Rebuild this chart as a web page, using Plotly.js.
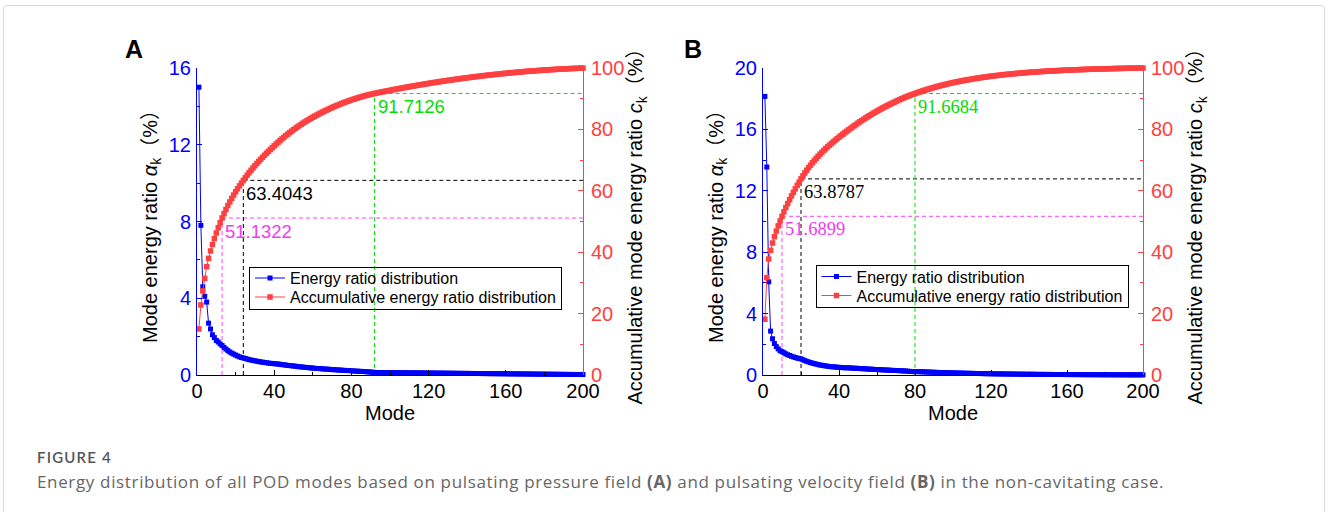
<!DOCTYPE html>
<html>
<head>
<meta charset="utf-8">
<script src="https://cdn.plot.ly/plotly-3.0.1.min.js"></script>
<style>
html,body{margin:0;padding:0;background:#fff;}
#wrap{position:relative;width:1328px;height:512px;overflow:hidden;background:#fff;}
#chart{position:absolute;left:0;top:0;width:1328px;height:512px;}
#frame{position:absolute;left:3px;top:5px;width:1320px;height:560px;border:1px solid #d9d9d9;border-radius:4px;pointer-events:none;z-index:5;}
.cap{position:absolute;left:37px;font-family:'Open Sans','Noto Sans',sans-serif;color:#666;white-space:nowrap;z-index:6;}
#cap1{top:448px;font-size:15px;font-weight:600;color:#555;letter-spacing:1.2px;font-family:'Lato','Open Sans',sans-serif;}
#cap2{top:470px;font-size:17px;letter-spacing:0.65px;}
</style>
</head>
<body>
<div id="wrap">
  <div id="chart"></div>
  <div id="frame"></div>
  <div class="cap" id="cap1">FIGURE 4</div>
  <div class="cap" id="cap2">Energy distribution of all POD modes based on pulsating pressure field <b>(A)</b> and pulsating velocity field <b>(B)</b> in the non-cavitating case.</div>
</div>
<script>
// ---------------- data ----------------
const modes = Array.from({length: 200}, (_, i) => i + 1);

// Panel A : pulsating pressure field
const energyA = [
15.0,7.8,4.6,4.1,3.8,2.7,2.4,2.1,1.95,1.8,
1.72,1.62,1.54,1.44,1.35,1.27,1.20,1.14,1.09,1.04,
0.99,0.95,0.91,0.89,0.86,0.83,0.80,0.78,0.76,0.74,
0.72,0.70,0.68,0.67,0.65,0.64,0.62,0.61,0.60,0.59,
0.58,0.57,0.56,0.54,0.53,0.52,0.50,0.49,0.48,0.47,
0.46,0.44,0.43,0.42,0.41,0.40,0.39,0.38,0.37,0.36,
0.35,0.34,0.34,0.33,0.32,0.31,0.31,0.30,0.29,0.28,
0.28,0.27,0.26,0.26,0.25,0.24,0.24,0.23,0.23,0.22,
0.21,0.20,0.20,0.19,0.19,0.18,0.18,0.165,0.16,0.155,
0.145,0.135,0.130,0.129,0.128,0.127,0.126,0.125,0.124,0.123,
0.122,0.121,0.120,0.119,0.118,0.117,0.116,0.115,0.114,0.113,
0.112,0.111,0.110,0.109,0.108,0.107,0.106,0.105,0.104,0.103,
0.102,0.101,0.100,0.099,0.098,0.097,0.096,0.095,0.094,0.093,
0.092,0.091,0.090,0.089,0.088,0.087,0.086,0.085,0.084,0.083,
0.082,0.081,0.080,0.079,0.078,0.077,0.076,0.075,0.074,0.073,
0.072,0.071,0.070,0.069,0.068,0.067,0.066,0.065,0.064,0.063,
0.062,0.061,0.060,0.059,0.058,0.057,0.056,0.055,0.054,0.053,
0.052,0.051,0.050,0.049,0.048,0.047,0.046,0.045,0.044,0.043,
0.042,0.041,0.040,0.039,0.038,0.037,0.036,0.035,0.034,0.033,
0.032,0.031,0.030,0.029,0.028,0.027,0.026,0.025,0.024,0.023
];
const cumulativeA = [
15.00,22.80,27.40,31.50,35.30,38.00,40.40,42.50,44.45,46.25,
47.97,49.59,51.13,52.57,53.92,55.19,56.39,57.53,58.62,59.66,
60.65,61.60,62.51,63.40,64.26,65.09,65.89,66.67,67.43,68.17,
68.89,69.59,70.27,70.94,71.59,72.23,72.85,73.46,74.06,74.65,
75.23,75.80,76.36,76.90,77.43,77.95,78.45,78.94,79.42,79.89,
80.35,80.79,81.22,81.64,82.05,82.45,82.84,83.22,83.59,83.95,
84.30,84.64,84.98,85.31,85.63,85.94,86.25,86.55,86.84,87.12,
87.40,87.67,87.93,88.19,88.44,88.68,88.92,89.15,89.38,89.60,
89.81,90.01,90.21,90.40,90.59,90.77,90.95,91.12,91.28,91.43,
91.58,91.71,91.84,91.97,92.10,92.22,92.35,92.48,92.60,92.72,
92.84,92.97,93.09,93.20,93.32,93.44,93.56,93.67,93.78,93.90,
94.01,94.12,94.23,94.34,94.45,94.55,94.66,94.77,94.87,94.97,
95.07,95.18,95.28,95.37,95.47,95.57,95.67,95.76,95.85,95.95,
96.04,96.13,96.22,96.31,96.40,96.48,96.57,96.66,96.74,96.82,
96.90,96.99,97.07,97.14,97.22,97.30,97.38,97.45,97.52,97.60,
97.67,97.74,97.81,97.88,97.95,98.01,98.08,98.15,98.21,98.27,
98.33,98.40,98.46,98.51,98.57,98.63,98.69,98.74,98.79,98.85,
98.90,98.95,99.00,99.05,99.10,99.14,99.19,99.24,99.28,99.32,
99.36,99.41,99.45,99.48,99.52,99.56,99.60,99.63,99.66,99.70,
99.73,99.76,99.79,99.82,99.85,99.87,99.90,99.93,99.95,99.97
];
const refModesA  = [13, 24, 92];
const refValuesA = [51.1322, 63.4043, 91.7126];

// Panel B : pulsating velocity field
const energyB = [
18.15,13.55,6.07,2.86,2.36,2.05,1.85,1.70,1.58,1.52,
1.45,1.38,1.32,1.27,1.22,1.18,1.14,1.10,1.08,1.05,
0.99,0.94,0.89,0.85,0.81,0.77,0.74,0.71,0.68,0.65,
0.63,0.61,0.59,0.57,0.55,0.54,0.53,0.52,0.51,0.50,
0.49,0.48,0.47,0.47,0.47,0.46,0.45,0.44,0.44,0.43,
0.42,0.41,0.41,0.40,0.39,0.38,0.38,0.37,0.36,0.36,
0.35,0.34,0.34,0.33,0.32,0.32,0.31,0.30,0.30,0.29,
0.29,0.28,0.27,0.27,0.26,0.25,0.24,0.23,0.22,0.22,
0.221,0.218,0.213,0.208,0.202,0.197,0.192,0.187,0.182,0.178,
0.173,0.169,0.164,0.160,0.156,0.152,0.148,0.144,0.140,0.137,
0.133,0.130,0.126,0.123,0.120,0.117,0.114,0.111,0.108,0.105,
0.103,0.100,0.097,0.095,0.092,0.090,0.088,0.085,0.083,0.081,
0.079,0.077,0.075,0.073,0.071,0.069,0.068,0.066,0.064,0.062,
0.061,0.059,0.058,0.056,0.055,0.053,0.052,0.051,0.049,0.048,
0.047,0.046,0.044,0.043,0.042,0.041,0.040,0.039,0.038,0.037,
0.036,0.035,0.034,0.033,0.033,0.032,0.031,0.030,0.029,0.029,
0.028,0.027,0.026,0.026,0.025,0.024,0.024,0.023,0.022,0.021,
0.021,0.020,0.020,0.019,0.019,0.018,0.018,0.017,0.017,0.016,
0.016,0.016,0.015,0.015,0.014,0.014,0.014,0.013,0.013,0.013,
0.012,0.012,0.012,0.011,0.011,0.011,0.010,0.010,0.010,0.010
];
const cumulativeB = [
18.15,31.70,37.77,40.63,42.99,45.04,46.89,48.59,50.17,51.69,
53.14,54.52,55.84,57.11,58.33,59.51,60.65,61.75,62.83,63.88,
64.87,65.81,66.70,67.55,68.36,69.13,69.87,70.58,71.26,71.91,
72.54,73.15,73.74,74.31,74.86,75.40,75.93,76.45,76.96,77.46,
77.95,78.43,78.90,79.37,79.84,80.30,80.75,81.19,81.63,82.06,
82.48,82.89,83.30,83.70,84.09,84.47,84.85,85.22,85.58,85.94,
86.29,86.63,86.97,87.30,87.62,87.94,88.25,88.55,88.85,89.14,
89.43,89.71,89.98,90.25,90.51,90.76,91.00,91.23,91.45,91.67,
91.90,92.11,92.33,92.53,92.74,92.93,93.13,93.31,93.50,93.67,
93.85,94.01,94.18,94.34,94.49,94.65,94.79,94.94,95.08,95.22,
95.35,95.48,95.60,95.73,95.85,95.96,96.08,96.19,96.30,96.40,
96.51,96.61,96.70,96.80,96.89,96.98,97.07,97.15,97.24,97.32,
97.40,97.47,97.55,97.62,97.69,97.76,97.83,97.89,97.96,98.02,
98.08,98.14,98.20,98.26,98.31,98.36,98.42,98.47,98.52,98.56,
98.61,98.66,98.70,98.74,98.79,98.83,98.87,98.91,98.94,98.98,
99.02,99.05,99.09,99.12,99.15,99.18,99.21,99.24,99.27,99.30,
99.33,99.36,99.38,99.41,99.43,99.46,99.48,99.51,99.53,99.55,
99.57,99.59,99.61,99.63,99.65,99.67,99.69,99.71,99.72,99.74,
99.76,99.77,99.79,99.80,99.82,99.83,99.85,99.86,99.87,99.89,
99.90,99.91,99.92,99.94,99.95,99.96,99.97,99.98,99.99,100.00
];
const refModesB  = [10, 20, 80];
const refValuesB = [51.6899, 63.8787, 91.6684];

const seriesNames = ['Energy ratio distribution', 'Accumulative energy ratio distribution'];
const panelLabels = ['A', 'B'];

// ---------------- style ----------------
const W = 1328, H = 512;
const SANS = 'Liberation Sans, Arial, Noto Sans CJK SC, sans-serif';
const SERIF = 'Liberation Serif, Times New Roman, Noto Sans CJK SC, serif';
const BLUE = '#0000ff', RED = '#ff4040';
const refColors = ['#ff40ff', '#000000', '#00e000'];
const refTextColors = ['#f03cf0', '#000000', '#00dd00'];
const px = v => v / W, py = v => (H - v) / H;
const yDom = [py(375), py(68)];

function xAxis(dom, anchor) {
  return {
    domain: dom, anchor: anchor, range: [0, 200], tick0: 0, dtick: 40,
    ticks: 'inside', ticklen: 5, tickwidth: 1, tickcolor: '#000',
    minor: {dtick: 20, ticks: 'inside', ticklen: 3, tickwidth: 1, tickcolor: '#000'},
    showline: true, linecolor: '#000', linewidth: 1, showgrid: false, zeroline: false,
    tickfont: {family: SANS, size: 20, color: '#000'}, ticklabelstandoff: -2,
    title: {text: 'Mode', font: {family: SANS, size: 20, color: '#000'}, standoff: 0},
    fixedrange: true
  };
}
function leftAxis(anchor, top, dt) {
  return {
    domain: yDom, anchor: anchor, range: [0, top], tick0: 0, dtick: dt,
    ticks: 'inside', ticklen: 5, tickwidth: 1, tickcolor: BLUE,
    minor: {dtick: dt / 2, ticks: 'inside', ticklen: 3, tickwidth: 1, tickcolor: BLUE},
    showline: true, linecolor: BLUE, linewidth: 1, showgrid: false, zeroline: false,
    tickfont: {family: SANS, size: 20, color: BLUE}, ticklabelstandoff: 1,
    title: {text: 'Mode energy ratio <i>α</i><sub>k</sub>（%）', font: {family: SANS, size: 20, color: '#000'}, standoff: 5},
    fixedrange: true
  };
}
function rightAxis(anchor, over) {
  return {
    domain: yDom, anchor: anchor, overlaying: over, side: 'right', range: [0, 100], tick0: 0, dtick: 20,
    ticks: 'inside', ticklen: 5, tickwidth: 1, tickcolor: RED,
    minor: {dtick: 10, ticks: 'inside', ticklen: 3.5, tickwidth: 1, tickcolor: RED},
    showline: true, linecolor: RED, linewidth: 1, showgrid: false, zeroline: false,
    tickfont: {family: SANS, size: 20, color: RED}, ticklabelstandoff: 3,
    title: {text: 'Accumulative mode energy ratio <i>c</i><sub>k</sub>（%）', font: {family: SANS, size: 20, color: '#000'}, standoff: 2},
    fixedrange: true
  };
}

function seriesTraces(xa, yl, yr, e, c, leg) {
  return [
    {x: modes, y: e, xaxis: xa, yaxis: yl, type: 'scatter', mode: 'lines+markers', name: seriesNames[0],
     legend: leg, cliponaxis: false,
     line: {color: BLUE, width: 1}, marker: {symbol: 'square', size: 5, color: BLUE, line: {width: 0}}},
    {x: modes, y: c, xaxis: xa, yaxis: yr, type: 'scatter', mode: 'lines+markers', name: seriesNames[1],
     legend: leg, cliponaxis: false,
     line: {color: RED, width: 1}, marker: {symbol: 'square', size: 5.5, color: RED, line: {width: 0}}}
  ];
}

const data = [
  ...seriesTraces('x', 'y', 'y2', energyA, cumulativeA, 'legend'),
  ...seriesTraces('x2', 'y3', 'y4', energyB, cumulativeB, 'legend2')
];

const shapes = [], annotations = [];
function addRefs(xr, yr, ms, vs, font) {
  ms.forEach((m, i) => {
    const ln = {color: refColors[i], width: 1, dash: '4px,3px'};
    shapes.push({type: 'line', xref: xr, yref: yr, x0: m, x1: 200, y0: vs[i], y1: vs[i], line: ln, layer: 'below'});
    shapes.push({type: 'line', xref: xr, yref: yr, x0: m, x1: m, y0: 0, y1: vs[i], line: ln, layer: 'below'});
    annotations.push({xref: xr, yref: yr, x: m, y: vs[i], text: vs[i].toFixed(4), showarrow: false,
      xanchor: 'left', yanchor: 'top', xshift: 1, yshift: -1,
      font: {family: font, size: 18.5, color: refTextColors[i]}});
  });
}
addRefs('x', 'y2', refModesA, refValuesA, SANS);
addRefs('x2', 'y4', refModesB, refValuesB, SERIF);

annotations.push({xref: 'paper', yref: 'paper', x: px(134), y: py(49), text: '<b>' + panelLabels[0] + '</b>',
  showarrow: false, xanchor: 'center', yanchor: 'middle', font: {family: SANS, size: 25, color: '#000'}});
annotations.push({xref: 'paper', yref: 'paper', x: px(693), y: py(49), text: '<b>' + panelLabels[1] + '</b>',
  showarrow: false, xanchor: 'center', yanchor: 'middle', font: {family: SANS, size: 25, color: '#000'}});

function legendCfg(x, y) {
  return {x: px(x), y: py(y), xanchor: 'left', yanchor: 'top', bgcolor: 'rgba(0,0,0,0)',
    bordercolor: '#000', borderwidth: 1, font: {family: SANS, size: 16, color: '#000'},
    tracegroupgap: 0, itemwidth: 30, traceorder: 'normal'};
}

const layout = {
  width: W, height: H, margin: {l: 0, r: 0, t: 0, b: 0},
  paper_bgcolor: 'rgba(0,0,0,0)', plot_bgcolor: 'rgba(0,0,0,0)',
  showlegend: true,
  xaxis: xAxis([px(197), px(583)], 'y'),
  yaxis: leftAxis('x', 16, 4),
  yaxis2: rightAxis('x', 'y'),
  xaxis2: xAxis([px(763), px(1143)], 'y3'),
  yaxis3: leftAxis('x2', 20, 4),
  yaxis4: rightAxis('x2', 'y3'),
  legend: legendCfg(249, 266.5),
  legend2: legendCfg(815.5, 265),
  shapes: shapes,
  annotations: annotations
};

// tighten the legend rows to the compact spacing of the original figure
function compactLegends(gd) {
  ['legend', 'legend2'].forEach(id => {
    const g = gd.querySelector('g.' + id);
    if (!g) return;
    const items = g.querySelectorAll('g.traces');
    const rowGap = 19, firstRow = 11.5;
    items.forEach((it, i) => {
      const tf = it.getAttribute('transform') || '';
      const m = tf.match(/translate\(\s*([-\d.]+)[ ,]+([-\d.]+)\s*\)/);
      const x = m ? parseFloat(m[1]) : 1;
      it.setAttribute('transform', 'translate(' + x + ',' + (firstRow + i * rowGap) + ')');
    });
    const bg = g.querySelector('rect.bg');
    if (bg) bg.setAttribute('height', 2 * rowGap + 4);
  });
}

Plotly.newPlot('chart', data, layout, {staticPlot: true, displayModeBar: false}).then(compactLegends);
</script>
</body>
</html>
